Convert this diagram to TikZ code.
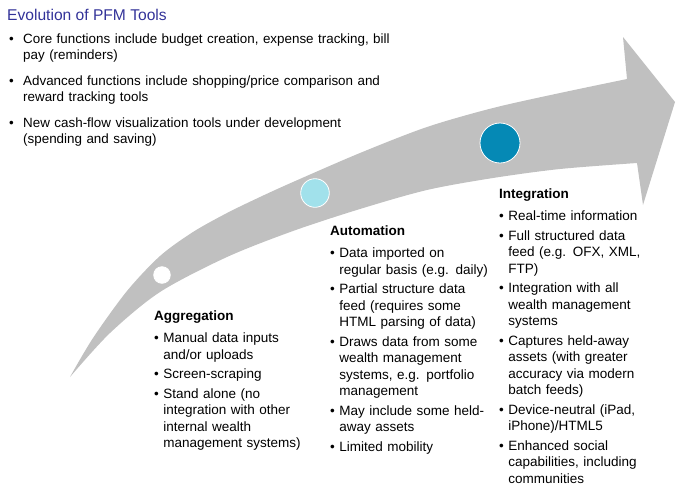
\documentclass[tikz,border=0pt]{standalone}
\usepackage{fontspec}
\setmainfont{Liberation Sans}
\usepackage{tikz}
\usetikzlibrary{positioning, shapes, shapes.geometric, arrows.meta, calc}
\definecolor{pfmgrey}{RGB}{192,192,192}
\definecolor{pfmnavy}{RGB}{51,51,153}
\definecolor{pfmcyan}{RGB}{161,225,235}
\definecolor{pfmteal}{RGB}{5,137,181}

\begin{document}
\begin{tikzpicture}[x=1pt, y=-1pt,
    col/.style={anchor=base west, inner sep=0pt, text width=#1, align=left, font=\fontsize{13.5}{16.5}\selectfont},
    col/.default=170pt,
    stage/.style={circle, draw=white, line width=0.8pt, inner sep=0pt},
    heading/.style={anchor=base west, inner sep=0pt, text=pfmnavy, font=\fontsize{15.6}{18}\selectfont}
]
\useasboundingbox (0,0) rectangle (681,496);

% Big arrow
\fill[pfmgrey] plot[smooth] coordinates {(70,377) (93,338) (127,291) (160,256)
        (193,232) (227,213) (260,197) (293,182) (360,153) (427,127) (493,108) (560,93) (627,79)}
    -- (623,37) -- (675,102) -- (643,205)
    -- plot[smooth] coordinates {(637,163) (560,169) (493,178) (427,190) (360,209)
        (293,231) (227,257) (160,292) (110,333) (70,377)} -- cycle;

% Stages
\node[stage, fill=white, minimum size=16.6pt] (c1) at (162,275) {};
\node[stage, fill=pfmcyan, minimum size=28.6pt] (c2) at (315,193) {};
\node[stage, fill=pfmteal, minimum size=40pt] (c3) at (500,143) {};

% Title and notes
\node[heading] (title) at (7,20.7) {Evolution of PFM Tools};
\node[col=440pt, font=\fontsize{13.4}{16.5}\selectfont] (notes) at (9,43.3) {%
\makebox[14pt][l]{\textbullet}Core functions include budget creation, expense tracking, bill\\
\hspace*{14pt}pay (reminders)\\[9pt]
\makebox[14pt][l]{\textbullet}Advanced functions include shopping/price comparison and\\
\hspace*{14pt}reward tracking tools\\[9pt]
\makebox[14pt][l]{\textbullet}New cash-flow visualization tools under development\\
\hspace*{14pt}(spending and saving)};

% Columns
\node[col] (agg) at (154,320) {\textbf{Aggregation}\\[6pt]
\textbullet\ Manual data inputs\\
\hphantom{\textbullet\ }and/or uploads\\[3pt]
\textbullet\ Screen-scraping\\[3pt]
\textbullet\ Stand alone (no\\
\hphantom{\textbullet\ }integration with other\\
\hphantom{\textbullet\ }internal wealth\\
\hphantom{\textbullet\ }management systems)};

\node[col] (auto) at (330,235) {\textbf{Automation}\\[6pt]
\textbullet\ Data imported on\\
\hphantom{\textbullet\ }regular basis (e.g. daily)\\[3pt]
\textbullet\ Partial structure data\\
\hphantom{\textbullet\ }feed (requires some\\
\hphantom{\textbullet\ }HTML parsing of data)\\[3pt]
\textbullet\ Draws data from some\\
\hphantom{\textbullet\ }wealth management\\
\hphantom{\textbullet\ }systems, e.g. portfolio\\
\hphantom{\textbullet\ }management\\[3pt]
\textbullet\ May include some held-\\
\hphantom{\textbullet\ }away assets\\[3pt]
\textbullet\ Limited mobility};

\node[col] (integ) at (499,198) {\textbf{Integration}\\[6pt]
\textbullet\ Real-time information\\[3pt]
\textbullet\ Full structured data\\
\hphantom{\textbullet\ }feed (e.g. OFX, XML,\\
\hphantom{\textbullet\ }FTP)\\[3pt]
\textbullet\ Integration with all\\
\hphantom{\textbullet\ }wealth management\\
\hphantom{\textbullet\ }systems\\[3pt]
\textbullet\ Captures held-away\\
\hphantom{\textbullet\ }assets (with greater\\
\hphantom{\textbullet\ }accuracy via modern\\
\hphantom{\textbullet\ }batch feeds)\\[3pt]
\textbullet\ Device-neutral (iPad,\\
\hphantom{\textbullet\ }iPhone)/HTML5\\[3pt]
\textbullet\ Enhanced social\\
\hphantom{\textbullet\ }capabilities, including\\
\hphantom{\textbullet\ }communities};

\end{tikzpicture}
\end{document}
